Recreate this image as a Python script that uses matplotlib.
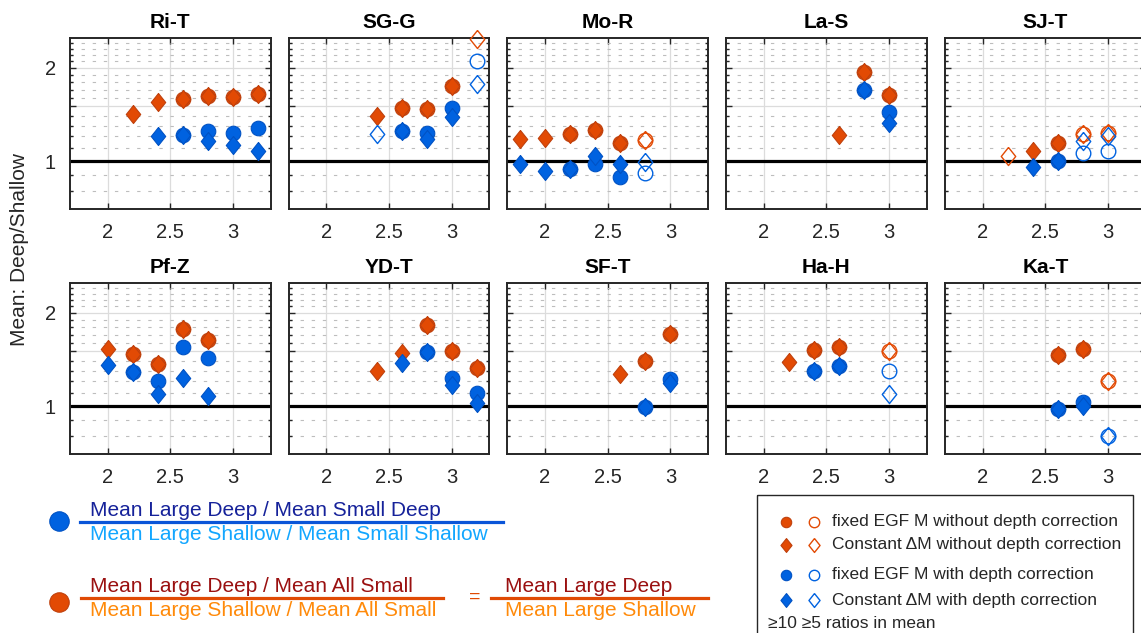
import numpy as np
import matplotlib
matplotlib.use('Agg')
import matplotlib.pyplot as plt
from matplotlib.ticker import FixedLocator, NullFormatter
from matplotlib.patches import Rectangle

plt.rcParams['font.family'] = ['Liberation Sans', 'DejaVu Sans']

stations = ['Ri-T', 'SG-G', 'Mo-R', 'La-S', 'SJ-T', 'Pf-Z', 'YD-T', 'SF-T', 'Ha-H', 'Ka-T']
mags = [1.8, 2.0, 2.2, 2.4, 2.6, 2.8, 3.0, 3.2]
N = None

# fixed EGF M, without depth correction
orange_circ = [
    [N, N, N, N, 1.59, 1.62, 1.61, 1.65],
    [N, N, N, N, 1.48, 1.47, 1.74, N],
    [N, N, 1.22, 1.26, 1.14, 1.17, N, N],
    [N, N, N, N, N, 1.94, 1.63, N],
    [N, N, N, N, 1.145, 1.22, 1.23, N],
    [N, N, 1.47, 1.37, 1.77, 1.63, N, N],
    [N, N, N, N, N, 1.82, 1.50, 1.33],
    [N, N, N, N, N, 1.40, 1.71, N],
    [N, N, N, 1.52, 1.55, N, 1.50, N],
    [N, N, N, N, 1.46, 1.53, 1.20, N],
]
# constant dM, without depth correction
orange_diam = [
    [N, N, 1.42, 1.55, 1.59, 1.62, 1.61, 1.65],
    [N, N, N, 1.40, 1.48, 1.47, 1.74, 2.48],
    [1.18, 1.19, 1.22, 1.26, 1.14, 1.17, N, N],
    [N, N, N, N, 1.21, 1.94, 1.63, N],
    [N, N, 1.04, 1.075, 1.145, 1.22, 1.23, N],
    [N, 1.53, 1.47, 1.37, 1.77, 1.63, N, N],
    [N, N, N, 1.30, 1.48, 1.82, 1.50, 1.33],
    [N, N, N, N, 1.27, 1.40, 1.71, N],
    [N, N, 1.39, 1.52, 1.55, N, 1.50, N],
    [N, N, N, N, 1.46, 1.53, 1.20, N],
]
# fixed EGF M, with depth correction
blue_circ = [
    [N, N, N, N, 1.21, 1.25, 1.23, 1.28],
    [N, N, N, N, 1.25, 1.23, 1.48, 2.10],
    [N, N, 0.945, 0.98, 0.885, 0.915, N, N],
    [N, N, N, N, N, 1.70, 1.44, N],
    [N, N, N, N, 1.0, 1.06, 1.08, N],
    [N, N, 1.29, 1.205, 1.55, 1.43, N, N],
    [N, N, N, N, N, 1.49, 1.23, 1.10],
    [N, N, N, N, N, 0.993, 1.22, N],
    [N, N, N, 1.30, 1.35, N, 1.295, N],
    [N, N, N, N, 0.975, 1.03, 0.80, N],
]
# constant dM, with depth correction
blue_diam = [
    [N, N, N, 1.20, 1.21, 1.16, 1.13, 1.075],
    [N, N, N, 1.22, 1.25, 1.18, 1.39, 1.77],
    [0.98, 0.93, 0.945, 1.035, 0.975, 0.99, N, N],
    [N, N, N, N, N, 1.70, 1.33, N],
    [N, N, N, 0.955, 1.0, 1.16, 1.20, N],
    [N, 1.36, 1.29, 1.09, 1.235, 1.075, N, N],
    [N, N, N, N, 1.38, 1.49, 1.17, 1.025],
    [N, N, N, N, N, 0.993, 1.19, N],
    [N, N, N, 1.30, 1.35, N, 1.09, N],
    [N, N, N, N, 0.975, 1.0, 0.80, N],
]
# points with only >=5 ratios in the mean (open symbols)
open_orange = [('SG-G', 3.2), ('Mo-R', 2.8), ('SJ-T', 2.2), ('SJ-T', 2.8),
               ('SJ-T', 3.0), ('Ha-H', 3.0), ('Ka-T', 3.0)]
open_blue = [('SG-G', 2.4), ('SG-G', 3.2), ('Mo-R', 2.8), ('SJ-T', 2.8),
             ('SJ-T', 3.0), ('Ha-H', 3.0), ('Ka-T', 3.0)]

OR_FILL, OR_EDGE = '#E24A04', '#BF400C'
BL_FILL, BL_EDGE = '#0062E0', '#0052C4'
DIAM = [(0, 1), (0.8, 0), (0, -1), (-0.8, 0), (0, 1)]

W, H = 1141, 633
fig = plt.figure(figsize=(W / 100, H / 100), dpi=100)

col_left = [70, 288.7, 507.3, 726, 945]
row_top = [37.7, 282.7]
aw, ah = 200.7, 171.3


def draw(ax, vals, i, marker, ms, fill, edge, open_list, z):
    v = np.array(vals[i], dtype=float)
    x = np.array(mags)
    is_open = np.array([(stations[i], m) in open_list for m in mags])
    ok = ~np.isnan(v)
    ax.plot(x[ok & ~is_open], v[ok & ~is_open], ls='none', marker=marker, ms=ms,
            mfc=fill, mec=edge, mew=0.8, clip_on=False, zorder=z)
    ax.plot(x[ok & is_open], v[ok & is_open], ls='none', marker=marker, ms=ms,
            mfc='none', mec=fill, mew=1.0, clip_on=False, zorder=z)


for i, st in enumerate(stations):
    r, c = divmod(i, 5)
    l, t = col_left[c], row_top[r]
    ax = fig.add_axes([l / W, 1 - (t + ah) / H, aw / W, ah / H])
    ax.set_yscale('log')
    ax.set_xlim(1.7, 3.3)
    ax.set_ylim(0.7, 2.5)
    ax.set_xticks([2, 2.5, 3])
    ax.set_xticklabels(['2', '2.5', '3'])
    ax.set_yticks([1, 1.5, 2])
    ax.yaxis.set_minor_locator(FixedLocator([0.8, 0.9, 1.1, 1.2, 1.3, 1.4, 1.6, 1.7,
                                             1.8, 1.9, 2.1, 2.2, 2.3, 2.4]))
    ax.yaxis.set_minor_formatter(NullFormatter())
    if c == 0:
        ax.set_yticklabels(['1', '', '2'])
    else:
        ax.set_yticklabels([])
    ax.grid(True, which='major', color='#DCDCDC', lw=0.9, zorder=0)
    ax.grid(True, which='minor', axis='y', color='#BDBDBD', lw=0.8, ls=(0, (3, 7)), zorder=0)
    ax.set_axisbelow(True)
    ax.tick_params(which='both', direction='in', top=True, right=True,
                   labelsize=14.5, colors='#262626', width=1.0)
    ax.tick_params(which='major', length=4, pad=10)
    ax.tick_params(which='minor', length=2.5)
    for s in ax.spines.values():
        s.set_linewidth(1.4)
        s.set_color('#262626')
    ax.axhline(1, color='black', lw=2.3, zorder=2)
    ax.set_title(st, fontsize=15, fontweight='bold', pad=7)

    draw(ax, orange_circ, i, 'o', 10.5, OR_FILL, OR_EDGE, open_orange, 3)
    draw(ax, orange_diam, i, DIAM, 13, OR_FILL, OR_EDGE, open_orange, 4)
    draw(ax, blue_circ, i, 'o', 10.5, BL_FILL, BL_EDGE, open_blue, 5)
    draw(ax, blue_diam, i, DIAM, 13, BL_FILL, BL_EDGE, open_blue, 6)

fig.text(20 / W, 1 - 250 / H, 'Mean: Deep/Shallow', rotation=90, fontsize=15,
         ha='center', va='center', color='#262626')

# overlay in pixel units for the two legend areas
ov = fig.add_axes([0, 0, 1, 1], facecolor='none')
ov.set_xlim(0, W)
ov.set_ylim(H, 0)
ov.axis('off')

# ratio explanation, lower left
ov.plot([59], [520.7], 'o', ms=14, mfc=BL_FILL, mec=BL_EDGE, mew=0.8)
ov.plot([80, 503], [522.3, 522.3], color='#0A55D8', lw=2.3)
ov.text(90, 510, 'Mean Large Deep / Mean Small Deep', fontsize=15, color='#16229A', va='center')
ov.text(90, 535, 'Mean Large Shallow / Mean Small Shallow', fontsize=15, color='#12A6FF', va='center')

ov.plot([59], [601.7], 'o', ms=14, mfc=OR_FILL, mec=OR_EDGE, mew=0.8)
ov.plot([81, 443], [598.3, 598.3], color='#E04A04', lw=2.3)
ov.text(90, 586, 'Mean Large Deep / Mean All Small', fontsize=15, color='#9A1010', va='center')
ov.text(90, 610.7, 'Mean Large Shallow / Mean All Small', fontsize=15, color='#FF8A0A', va='center')
ov.text(475, 597, '=', fontsize=14, color='#E04A04', ha='center', va='center')
ov.plot([491, 708], [598.3, 598.3], color='#E04A04', lw=2.3)
ov.text(505, 586, 'Mean Large Deep', fontsize=15, color='#9A1010', va='center')
ov.text(505, 610.7, 'Mean Large Shallow', fontsize=15, color='#FF8A0A', va='center')

# symbol legend, lower right
ov.add_patch(Rectangle((757, 495), 376, 160, fill=False, ec='#262626', lw=1.0))
leg_rows = [(521.7, 'o', 7.5, OR_FILL, OR_EDGE, 'fixed EGF M without depth correction'),
            (545, DIAM, 10, OR_FILL, OR_EDGE, 'Constant \u0394M without depth correction'),
            (575, 'o', 7.5, BL_FILL, BL_EDGE, 'fixed EGF M with depth correction'),
            (600, DIAM, 10, BL_FILL, BL_EDGE, 'Constant \u0394M with depth correction')]
for y, mk, ms, fc, ec, lab in leg_rows:
    ov.plot([786], [y], ls='none', marker=mk, ms=ms, mfc=fc, mec=ec, mew=0.8)
    ov.plot([814.3], [y], ls='none', marker=mk, ms=ms, mfc='none', mec=fc, mew=1.0)
    ov.text(832, y, lab, fontsize=12.5, color='#262626', va='center')
ov.text(768, 623.3, '\u226510 \u22655 ratios in mean', fontsize=12.5, color='#262626', va='center')

fig.savefig('out.png', dpi=100)
